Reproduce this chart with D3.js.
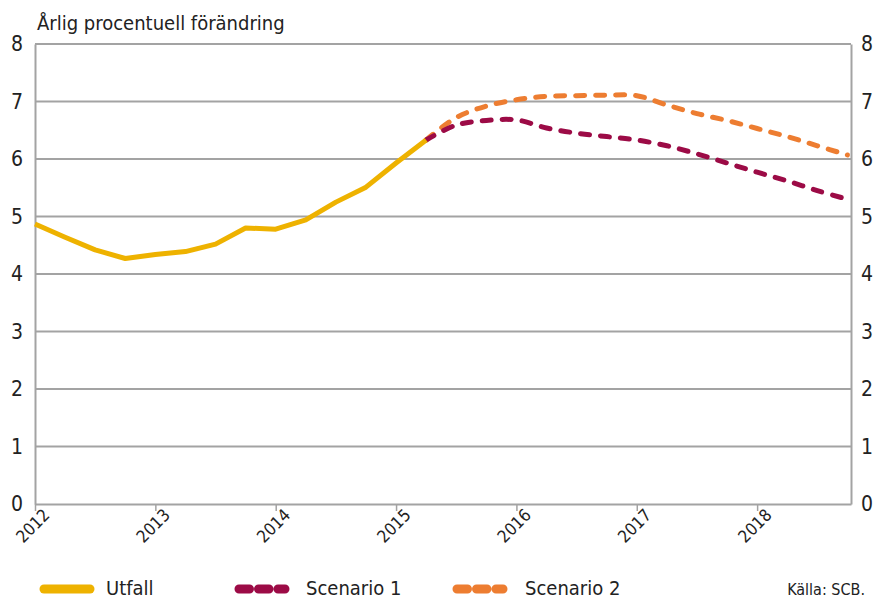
<!DOCTYPE html>
<html>
<head>
<meta charset="utf-8">
<script src="https://cdn.jsdelivr.net/npm/d3@7/dist/d3.min.js"></script>
<style>
  html, body { margin: 0; padding: 0; background: #fff; }
  svg { display: block; }
  text { font-family: "Liberation Sans Narrow", "DejaVu Sans Condensed", "Roboto Condensed", sans-serif; fill: #222; }
</style>
</head>
<body>
<svg id="chart" width="876" height="601"></svg>
<script>
// Quarterly observations, 2012 Q1 – 2015 Q2
const utfallQuarters = [2012, 2012.25, 2012.5, 2012.75, 2013, 2013.25, 2013.5, 2013.75,
                        2014, 2014.25, 2014.5, 2014.75, 2015, 2015.25];
const utfallValues = [4.87, 4.64, 4.42, 4.27, 4.34, 4.39, 4.52, 4.80,
                      4.78, 4.94, 5.25, 5.51, 5.93, 6.33];

// Projections, 2015 Q2 – 2018 Q4
const scenarioQuarters = [2015.25, 2015.5, 2015.75, 2016, 2016.25, 2016.5, 2016.75,
                          2017, 2017.25, 2017.5, 2017.75, 2018, 2018.25, 2018.5, 2018.75];
const scenario1Values = [6.33, 6.59, 6.67, 6.68, 6.54, 6.45, 6.39,
                         6.33, 6.23, 6.09, 5.93, 5.77, 5.62, 5.45, 5.30];
const scenario2Values = [6.33, 6.72, 6.92, 7.03, 7.09, 7.10, 7.11,
                         7.10, 6.94, 6.79, 6.67, 6.53, 6.39, 6.23, 6.07];

const yearTicks = [2012, 2013, 2014, 2015, 2016, 2017, 2018];
const valueTicks = [0, 1, 2, 3, 4, 5, 6, 7, 8];

const titleText = "Årlig procentuell förändring";
const sourceText = "Källa: SCB.";
const seriesNames = ["Utfall", "Scenario 1", "Scenario 2"];
const seriesColors = ["#eeb200", "#9c0b46", "#ed7d31"];

const svg = d3.select("#chart");
const plot = { left: 35, right: 851, top: 44, bottom: 504 };

const x = d3.scaleLinear().domain([2012, 2018.78]).range([plot.left, plot.right]);
const y = d3.scaleLinear().domain([0, 8]).range([plot.bottom, plot.top]);

const gridColor = "#a3a3a3";
const fontStack = "'Liberation Sans Narrow', 'DejaVu Sans Condensed', sans-serif";

// Horizontal gridlines
svg.append("g")
  .selectAll("line")
  .data(valueTicks.filter(v => v > 0))
  .join("line")
  .attr("x1", plot.left).attr("x2", plot.right)
  .attr("y1", d => y(d)).attr("y2", d => y(d))
  .attr("stroke", gridColor).attr("stroke-width", 2);

// Left and right value axes
const leftAxis = d3.axisLeft(y).tickValues(valueTicks).tickSize(0).tickPadding(12);
const rightAxis = d3.axisRight(y).tickValues(valueTicks).tickSize(0).tickPadding(10);

function styleAxis(g) {
  g.select(".domain").attr("stroke", gridColor).attr("stroke-width", 2);
  g.selectAll("text").attr("font-size", 21).attr("fill", "#222")
    .style("font-family", fontStack);
}

svg.append("g").attr("transform", `translate(${plot.left},0)`).call(leftAxis).call(styleAxis);
svg.append("g").attr("transform", `translate(${plot.right},0)`).call(rightAxis).call(styleAxis);

// Bottom time axis
const bottomAxis = d3.axisBottom(x).tickValues(yearTicks).tickFormat(d3.format("d"))
  .tickSize(7).tickSizeOuter(0).tickPadding(4);
const xg = svg.append("g").attr("transform", `translate(0,${plot.bottom})`).call(bottomAxis);
xg.select(".domain").attr("stroke", gridColor).attr("stroke-width", 2);
xg.selectAll(".tick line").attr("stroke", gridColor).attr("stroke-width", 1.5);
xg.selectAll(".tick text")
  .attr("font-size", 17)
  .attr("fill", "#222")
  .style("font-family", fontStack)
  .attr("text-anchor", "end")
  .attr("transform", "translate(11,8) rotate(-45)")
  .attr("dy", "0.35em")
  .attr("y", 0).attr("x", 0);

// Title
svg.append("text")
  .attr("x", 37).attr("y", 30)
  .attr("font-size", 20)
  .text(titleText);

// Series lines
const line = d3.line().x(d => x(d[0])).y(d => y(d[1]));
const smooth = d3.line().x(d => x(d[0])).y(d => y(d[1])).curve(d3.curveCatmullRom.alpha(0.5));

const s2 = scenarioQuarters.map((q, i) => [q, scenario2Values[i]]);
const s1 = scenarioQuarters.map((q, i) => [q, scenario1Values[i]]);
const ut = utfallQuarters.map((q, i) => [q, utfallValues[i]]);

svg.append("path").datum(s2).attr("d", smooth)
  .attr("fill", "none").attr("stroke", seriesColors[2]).attr("stroke-width", 5)
  .attr("stroke-linecap", "round").attr("stroke-dasharray", "9,11");
svg.append("path").datum(s1).attr("d", smooth)
  .attr("fill", "none").attr("stroke", seriesColors[1]).attr("stroke-width", 5)
  .attr("stroke-linecap", "round").attr("stroke-dasharray", "9,11");
svg.append("path").datum(ut).attr("d", line)
  .attr("fill", "none").attr("stroke", seriesColors[0]).attr("stroke-width", 5)
  .attr("stroke-linejoin", "round");

// Legend
const legend = svg.append("g");
const legendItems = [
  { name: seriesNames[0], color: seriesColors[0], x0: 44, dashed: false, tx: 106 },
  { name: seriesNames[1], color: seriesColors[1], x0: 239, dashed: true, tx: 306 },
  { name: seriesNames[2], color: seriesColors[2], x0: 457, dashed: true, tx: 525 }
];
const ly = 589;
legendItems.forEach(it => {
  legend.append("line")
    .attr("x1", it.x0).attr("x2", it.x0 + 46)
    .attr("y1", ly).attr("y2", ly)
    .attr("stroke", it.color).attr("stroke-width", 9)
    .attr("stroke-linecap", "round")
    .attr("stroke-dasharray", it.dashed ? "10.5,9" : null);
  legend.append("text")
    .attr("x", it.tx).attr("y", ly + 6)
    .attr("font-size", 20)
    .text(it.name);
});

svg.append("text")
  .attr("x", 865).attr("y", 595)
  .attr("text-anchor", "end")
  .attr("font-size", 16)
  .text(sourceText);
</script>
</body>
</html>
